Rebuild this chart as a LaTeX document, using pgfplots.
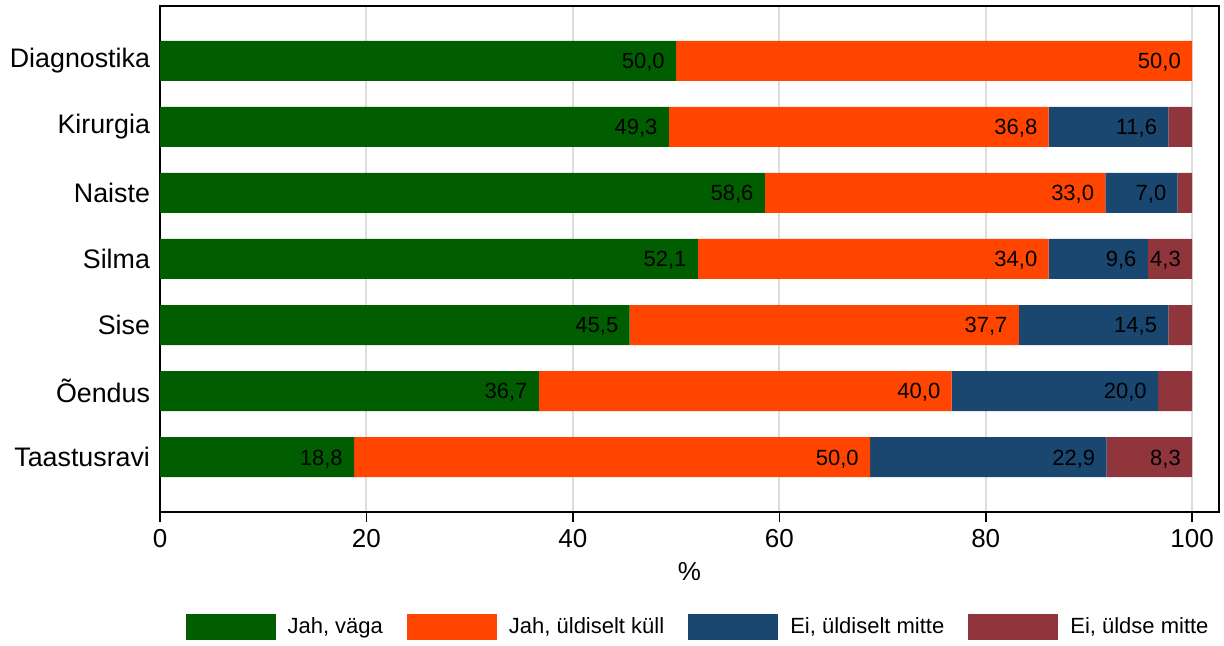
\documentclass[border=0pt]{standalone}
\usepackage{fontspec}
\setmainfont{Liberation Sans}
\usepackage{pgfplots}
\usepackage{pgfplotstable}
\pgfplotsset{compat=1.18}
\definecolor{cgreen}{RGB}{0,94,0}
\definecolor{corange}{RGB}{255,69,0}
\definecolor{cblue}{RGB}{26,71,111}
\definecolor{cmaroon}{RGB}{144,53,59}
\definecolor{cgrid}{RGB}{221,221,221}

\pgfplotstableread{
y x lab
6 50.0 50,0
5 49.3 49,3
4 58.6 58,6
3 52.1 52,1
2 45.5 45,5
1 36.7 36,7
0 18.8 18,8
}\tA
\pgfplotstableread{
y x lab
6 50.0 50,0
5 36.8 36,8
4 33.0 33,0
3 34.0 34,0
2 37.7 37,7
1 40.0 40,0
0 50.0 50,0
}\tB
\pgfplotstableread{
y x lab
6 0.0 {}
5 11.6 11,6
4 7.0 7,0
3 9.6 9,6
2 14.5 14,5
1 20.0 20,0
0 22.9 22,9
}\tC
\pgfplotstableread{
y x lab
6 0.0 {}
5 2.3 {}
4 1.4 {}
3 4.3 4,3
2 2.3 {}
1 3.3 {}
0 8.3 8,3
}\tD

\begin{document}
\begin{tikzpicture}
\useasboundingbox (-80pt,-67pt) rectangle (532pt,256pt);
\begin{axis}[
  at={(0,0)}, anchor=south west,
  scale only axis, width=529.5pt, height=253pt,
  xbar stacked, bar width=20pt,
  xmin=0, xmax=102.6, ymin=-0.83, ymax=6.83,
  xtick={0,20,40,60,80,100}, ytick={0,...,6},
  yticklabels={Taastusravi,Õendus,Sise,Silma,Naiste,Kirurgia,Diagnostika},
  xtick pos=lower, ytick pos=left,
  xmajorgrids, grid style={cgrid, line width=1pt},
  axis line style={line width=0.8pt},
  tick align=outside, major tick length=5pt,
  x tick style={black, line width=0.8pt},
  y tick style={draw=none},
  /pgf/number format/assume math mode=true,
  x tick label style={font=\fontsize{13}{15}\selectfont},
  y tick label style={font=\fontsize{13.4}{15}\selectfont, xshift=3.5pt},
  xlabel={\%},
  x label style={font=\fontsize{13}{15}\selectfont, at={(axis description cs:0.5,-0.1186)}, anchor=center},
  nodes near coords, point meta=explicit symbolic,
  visualization depends on={\thisrow{x} \as \segw},
  every node near coord/.append style={anchor=east, xshift=\segw*2.5804pt-5.5pt, yshift=-0.8pt, inner sep=0pt, font=\fontsize{11}{13}\selectfont, text=black},
  legend columns=4,
  legend style={at={(0.509,-0.227)}, anchor=center, draw=none, font=\fontsize{11}{13}\selectfont,
    /tikz/every odd column/.append style={column sep=4pt},
    /tikz/every even column/.append style={column sep=10pt}},
  legend image code/.code={\fill[#1] (0pt,-6.5pt) rectangle (45pt,6.5pt);},
]
\addplot[fill=cgreen, draw=none] table[x=x, y=y, meta=lab]{\tA};
\addplot[fill=corange, draw=none] table[x=x, y=y, meta=lab]{\tB};
\addplot[fill=cblue, draw=none] table[x=x, y=y, meta=lab]{\tC};
\addplot[fill=cmaroon, draw=none] table[x=x, y=y, meta=lab]{\tD};
\legend{{Jah, väga},{Jah, üldiselt küll},{Ei, üldiselt mitte},{Ei, üldse mitte}}
\end{axis}
\end{tikzpicture}
\end{document}
